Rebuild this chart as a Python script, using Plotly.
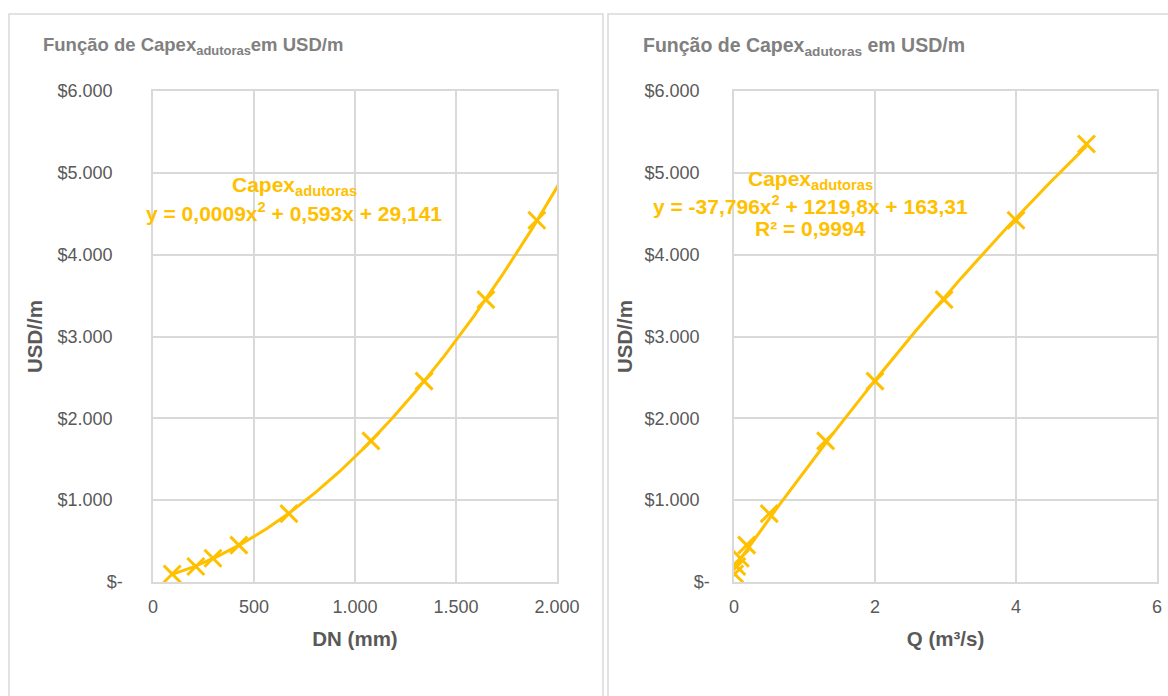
import numpy as np
import plotly.graph_objects as go

# ---------------- data ----------------
dn_mm = [95, 212, 297, 425, 673, 1079, 1342, 1648, 1900, 2125]
q_m3s = [0.01, 0.04, 0.09, 0.18, 0.50, 1.30, 2.00, 2.98, 4.00, 5.00]
capex_usd_m = [98, 190, 290, 450, 835, 1725, 2455, 3450, 4420, 5352]

NB2 = "\u00a0\u00a0"
y_tickvals = [0, 1000, 2000, 3000, 4000, 5000, 6000]
y_ticktext = ["$-", "$1.000" + NB2, "$2.000" + NB2, "$3.000" + NB2,
              "$4.000" + NB2, "$5.000" + NB2, "$6.000" + NB2]
dn_tickvals = [0, 500, 1000, 1500, 2000]
dn_ticktext = ["0", "500", "1.000", "1.500", "2.000"]
q_tickvals = [0, 2, 4, 6]
q_ticktext = ["0", "2", "4", "6"]

title_left = "Função de Capex<sub>adutoras</sub>em USD/m"
title_right = "Função de Capex<sub>adutoras</sub> em USD/m"
eq_left = ["Capex<sub>adutoras</sub>", "y = 0,0009x<sup>2</sup> + 0,593x + 29,141"]
eq_right = ["Capex<sub>adutoras</sub>", "y = -37,796x<sup>2</sup> + 1219,8x + 163,31", "R² = 0,9994"]

# ---------------- style ----------------
W, H = 1168, 696
GOLD = "#FFC000"
GRID = "#D9D9D9"
TXT = "#595959"
FONT = "Liberation Sans, Arial, sans-serif"

def px(x):
    return x / W

def py(y):
    return 1 - y / H

# trendlines (2nd-order polynomial fits of the data, like Excel)
c_dn = np.polyfit(dn_mm, capex_usd_m, 2)
xs_dn = np.linspace(min(dn_mm), max(dn_mm), 200)
c_q = np.polyfit(q_m3s, capex_usd_m, 2)
xs_q = np.linspace(0, max(q_m3s), 200)

fig = go.Figure()
fig.add_trace(go.Scatter(x=xs_dn, y=np.polyval(c_dn, xs_dn), mode="lines",
                         line=dict(color=GOLD, width=3), xaxis="x", yaxis="y",
                         hoverinfo="skip", showlegend=False))
fig.add_trace(go.Scatter(x=dn_mm, y=capex_usd_m, mode="markers",
                         marker=dict(symbol="x-thin", size=17, color=GOLD,
                                     line=dict(width=3, color=GOLD)),
                         xaxis="x", yaxis="y", showlegend=False))
fig.add_trace(go.Scatter(x=xs_q, y=np.polyval(c_q, xs_q), mode="lines",
                         line=dict(color=GOLD, width=3), xaxis="x2", yaxis="y2",
                         hoverinfo="skip", showlegend=False))
fig.add_trace(go.Scatter(x=q_m3s, y=capex_usd_m, mode="markers",
                         marker=dict(symbol="x-thin", size=17, color=GOLD,
                                     line=dict(width=3, color=GOLD)),
                         xaxis="x2", yaxis="y2", showlegend=False))

ydom = [py(582), py(91)]
common_axis = dict(showgrid=True, gridcolor=GRID, gridwidth=1.5, zeroline=False,
                   showline=True, linecolor=GRID, linewidth=1.5, mirror=True,
                   ticks="", tickfont=dict(family=FONT, size=18, color=TXT),
                   tickmode="array", automargin=False)
axis_title_font = dict(family=FONT, size=20.5, color=TXT)

fig.update_layout(
    width=W, height=H,
    margin=dict(l=0, r=0, t=0, b=0, pad=0, autoexpand=False),
    paper_bgcolor="white", plot_bgcolor="white",
    font=dict(family=FONT, color=TXT),
    xaxis=dict(domain=[px(153), px(557)], range=[0, 2000], anchor="y",
               tickvals=dn_tickvals, ticktext=dn_ticktext, ticklabelstandoff=8,
               title=dict(text="<b>DN (mm)</b>", font=axis_title_font, standoff=15),
               **common_axis),
    yaxis=dict(domain=ydom, range=[0, 6000], anchor="x",
               tickvals=y_tickvals, ticktext=y_ticktext, ticklabelstandoff=25,
               title=dict(text="<b>USD//m</b>", font=axis_title_font, standoff=9),
               **common_axis),
    xaxis2=dict(domain=[px(734), px(1157)], range=[0, 6], anchor="y2",
                tickvals=q_tickvals, ticktext=q_ticktext, ticklabelstandoff=8,
                title=dict(text="<b>Q (m³/s)</b>", font=axis_title_font, standoff=15),
                **common_axis),
    yaxis2=dict(domain=ydom, range=[0, 6000], anchor="x2",
                tickvals=y_tickvals, ticktext=y_ticktext, ticklabelstandoff=19,
                title=dict(text="<b>USD//m</b>", font=axis_title_font, standoff=6),
                **common_axis),
)

# panel borders
fig.add_shape(type="rect", xref="paper", yref="paper", x0=px(9), x1=px(603),
              y0=py(700), y1=py(14), line=dict(color=GRID, width=1.5), layer="below")
fig.add_shape(type="rect", xref="paper", yref="paper", x0=px(608), x1=px(1172),
              y0=py(700), y1=py(14), line=dict(color=GRID, width=1.5), layer="below")

# chart titles
fig.add_annotation(text="<b>" + title_left + "</b>", xref="paper", yref="paper",
                   x=px(41), y=py(46), xanchor="left", yanchor="middle",
                   showarrow=False, font=dict(family=FONT, size=18.5, color="#808080"))
fig.add_annotation(text="<b>" + title_right + "</b>", xref="paper", yref="paper",
                   x=px(641), y=py(46), xanchor="left", yanchor="middle",
                   showarrow=False, font=dict(family=FONT, size=19.5, color="#808080"))

# trendline equations
eq_font = dict(family=FONT, size=21, color=GOLD)
for txt, yy in zip(eq_left, [186, 212]):
    fig.add_annotation(text="<b>" + txt + "</b>", xref="paper", yref="paper",
                       x=px(294), y=py(yy), xanchor="center", yanchor="middle",
                       showarrow=False, font=eq_font)
for txt, yy in zip(eq_right, [180, 205, 228]):
    fig.add_annotation(text="<b>" + txt + "</b>", xref="paper", yref="paper",
                       x=px(810), y=py(yy), xanchor="center", yanchor="middle",
                       showarrow=False, font=eq_font)

fig.write_html("out.html",
               config={"displayModeBar": False},
               post_script="document.body.style.margin='0';"
                           "document.body.style.overflow='hidden';")
